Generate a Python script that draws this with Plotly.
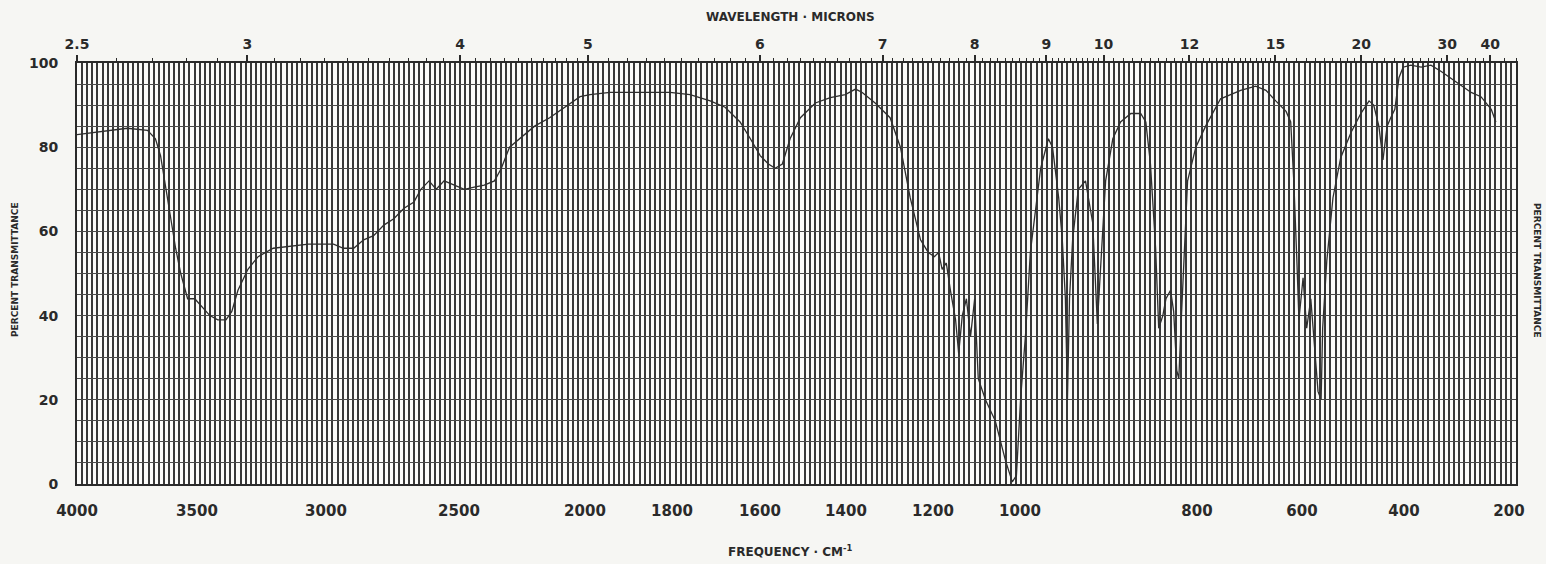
import numpy as np
import plotly.graph_objects as go

# ---------------- data ----------------
wavenumber = [4000, 3882, 3803, 3724, 3693, 3673, 3654, 3634, 3614, 3594, 3567, 3539, 3508, 3480,
              3449, 3417, 3394, 3370, 3331, 3291, 3232, 3173, 3094, 2996, 2957, 2917, 2878, 2839,
              2799, 2760, 2720, 2681, 2654, 2622, 2594, 2563, 2524, 2484, 2445, 2406, 2366, 2339,
              2307, 2268, 2209, 2150, 2091, 2031, 1996, 1957, 1899, 1841, 1802, 1763, 1734, 1705,
              1685, 1666, 1650, 1637, 1623, 1608, 1588, 1559, 1530, 1501, 1481, 1468, 1443, 1414,
              1394, 1375, 1355, 1340, 1328, 1320, 1313, 1305, 1297, 1287, 1281, 1274, 1266, 1258,
              1250, 1243, 1229, 1210, 1190, 1177, 1169, 1161, 1151, 1142, 1122, 1107, 1099, 1087,
              1080, 1074, 1070, 1066, 1060, 1049, 1035, 1021, 1012, 1006, 996, 982, 967, 947,
              928, 918, 909, 899, 893, 885, 879, 870, 864, 858, 854, 850, 844, 837, 821, 802,
              773, 734, 705, 685, 666, 646, 637, 631, 625, 621, 613, 606, 598, 590, 584, 578,
              575, 567, 555, 540, 520, 501, 485, 476, 466, 458, 450, 443, 435, 427, 419, 404,
              384, 365, 345, 316, 287, 268, 248, 239]
transmittance = [83, 84, 84.5, 84, 82, 78, 71, 63, 56, 50, 44, 44, 42, 40,
                 39, 39, 41, 46, 51, 54, 56, 56.5, 57, 57, 56, 56, 58, 59,
                 61.5, 63, 65.5, 67, 70, 72, 70, 72, 71, 70, 70.5, 71, 72, 75,
                 80, 82, 85, 87, 89.5, 92, 92.5, 93, 93, 93, 92.5, 91, 89.5, 86,
                 82, 78, 76, 75, 76, 82, 87, 90.5, 91.8, 92.5, 93.8, 93, 90.5, 87,
                 80, 68, 58, 55, 54, 55, 51, 52.5, 46, 39, 31, 40, 44, 35,
                 44, 25, 20, 15, 5.5, 0.5, 2, 20, 36, 55, 75, 82, 80, 68,
                 58, 44, 20, 44, 58, 70, 72, 62, 38, 50, 72, 82, 86, 88,
                 88, 86, 76, 56, 37, 40, 44, 46, 41, 27, 25, 37, 53, 72, 80, 85,
                 91.5, 93.5, 94.5, 93.5, 91, 88.5, 86, 72, 53, 39, 49, 37, 44, 32, 22, 20,
                 37, 53, 68, 77.5, 83.5, 88, 91, 90, 85, 77, 85, 87, 89, 96.5, 99, 99.5,
                 99, 99.5, 98, 95.5, 93, 92, 89, 86]

freq_labels = [4000, 3500, 3000, 2500, 2000, 1800, 1600, 1400, 1200, 1000, 800, 600, 400, 200]
# where the printed frequency labels sit on the chart strip (chart-position units)
freq_label_pos = [0, 120, 249, 382, 508, 595, 683, 769, 856, 943, 1120, 1225, 1327, 1432]
wavelength_labels = [2.5, 3, 4, 5, 6, 7, 8, 9, 10, 12, 15, 20, 30, 40]
wavelength_minor = (list(np.round(np.arange(2.6, 10.0, 0.1), 2))
                    + list(np.round(np.arange(10.2, 15.0, 0.2), 2))
                    + [15.5, 16, 16.5, 17, 17.5, 18, 18.5, 19, 19.5]
                    + list(range(21, 30)) + [32, 34, 36, 38] + [45, 50])
y_labels = [0, 20, 40, 60, 80, 100]

# ---------------- chart scale (grating change at 2000 cm-1) ----------------
S1, S2 = 0.2555, 0.5156
BREAK = (4000 - 2000) * S1
XMAX = BREAK + (2000 - 200) * S2


def to_u(nu):
    nu = np.asarray(nu, dtype=float)
    return np.where(nu >= 2000, (4000 - nu) * S1, BREAK + (2000 - nu) * S2)


grid_nu = list(range(4000, 2000, -20)) + list(range(2000, 199, -10))

INK = "#383838"
FONT = "DejaVu Sans"

fig = go.Figure()
fig.add_trace(go.Scatter(x=to_u(wavenumber), y=transmittance, mode="lines",
                         line=dict(color="#2e2e2e", width=1.3), hoverinfo="skip",
                         showlegend=False))
fig.add_trace(go.Scatter(x=[0, XMAX], y=[None, None], xaxis="x2", mode="lines",
                         showlegend=False, hoverinfo="skip"))

fig.update_layout(
    width=1546, height=564,
    margin=dict(l=77, r=30, t=63, b=80),
    paper_bgcolor="#f6f6f3",
    plot_bgcolor="#fbfbf9",
    showlegend=False,
    xaxis=dict(
        range=[0, XMAX], showgrid=False, zeroline=False,
        tickmode="array", tickvals=freq_label_pos,
        ticktext=[f"<b>{v}</b>" for v in freq_labels],
        ticks="", ticklabelstandoff=12,
        tickfont=dict(family=FONT, size=15, color="#2a2a2a"),
        showline=True, mirror=True, linecolor="#2a2a2a", linewidth=2,
        minor=dict(tickmode="array", tickvals=list(to_u(grid_nu)), showgrid=True,
                   gridcolor=INK, gridwidth=1.9, ticks=""),
    ),
    xaxis2=dict(
        overlaying="x", side="top", range=[0, XMAX], showgrid=False, zeroline=False,
        tickmode="array", tickvals=list(to_u(10000.0 / np.array(wavelength_labels))),
        ticktext=[f"<b>{v}</b>" for v in wavelength_labels],
        ticks="outside", ticklen=7, tickwidth=1.5, tickcolor="#2a2a2a",
        tickfont=dict(family=FONT, size=14, color="#2a2a2a"),
        minor=dict(tickmode="array",
                   tickvals=list(to_u(10000.0 / np.array(wavelength_minor, dtype=float))),
                   ticks="outside", ticklen=4, tickwidth=1.2, tickcolor="#2a2a2a",
                   showgrid=False),
    ),
    yaxis=dict(
        range=[0, 100], tickmode="array", tickvals=y_labels,
        ticktext=[f"<b>{v}</b>" for v in y_labels],
        ticks="", ticklabelstandoff=14,
        tickfont=dict(family=FONT, size=14, color="#2a2a2a"),
        showgrid=True, gridcolor="#4a4a4a", gridwidth=1.2, zeroline=False,
        showline=True, mirror=True, linecolor="#2a2a2a", linewidth=2,
        minor=dict(dtick=5, tick0=0, showgrid=True, gridcolor="#4a4a4a",
                   gridwidth=1.2, ticks=""),
    ),
)


def px(xp):
    return (xp - 77) / (1546 - 77 - 30)


def py(yp):
    return (564 - 80 - yp) / (564 - 63 - 80)


common = dict(xref="paper", yref="paper", showarrow=False, xanchor="center", yanchor="middle")
fig.add_annotation(text="<b>WAVELENGTH · MICRONS</b>", x=px(790), y=py(17),
                   font=dict(family=FONT, size=12, color="#2a2a2a"), **common)
fig.add_annotation(text="<b>FREQUENCY · CM<sup>-1</sup></b>", x=px(790), y=py(551),
                   font=dict(family=FONT, size=12, color="#2a2a2a"), **common)
fig.add_annotation(text="<b>PERCENT TRANSMITTANCE</b>", x=px(15), y=py(270), textangle=-90,
                   font=dict(family=FONT, size=9, color="#2a2a2a"), **common)
fig.add_annotation(text="<b>PERCENT TRANSMITTANCE</b>", x=px(1537), y=py(270), textangle=90,
                   font=dict(family=FONT, size=9, color="#2a2a2a"), **common)

fig.write_html("out.html", config={"displayModeBar": False},
               post_script="document.body.style.margin='0';")
